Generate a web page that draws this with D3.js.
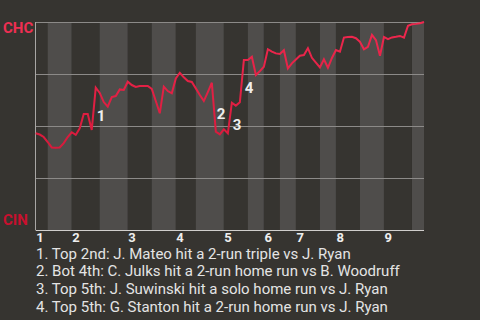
<!DOCTYPE html>
<html>
<head>
<meta charset="utf-8">
<script src="https://cdn.jsdelivr.net/npm/d3@7"></script>
<style>
  html, body { margin: 0; padding: 0; background: #363430; }
  svg { display: block; font-family: Roboto, "Noto Sans", sans-serif; }
</style>
</head>
<body>
<svg width="480" height="320"></svg>
<script>
// CHC win probability after each play (0 = CIN wins, 1 = CHC wins)
const winProb = [
  0.465, 0.459, 0.447, 0.423, 0.397, 0.396, 0.397, 0.418, 0.447, 0.470,
  0.457, 0.489, 0.558, 0.558, 0.481, 0.684, 0.659, 0.615, 0.593, 0.639,
  0.644, 0.676, 0.673, 0.713, 0.697, 0.688, 0.692, 0.692, 0.692, 0.678,
  0.620, 0.561, 0.689, 0.668, 0.657, 0.729, 0.756, 0.734, 0.716, 0.712,
  0.681, 0.649, 0.620, 0.663, 0.708, 0.473, 0.460, 0.484, 0.465, 0.612,
  0.598, 0.614, 0.817, 0.817, 0.833, 0.745, 0.764, 0.785, 0.869, 0.858,
  0.849, 0.846, 0.864, 0.777, 0.801, 0.820, 0.838, 0.841, 0.874, 0.828,
  0.805, 0.782, 0.821, 0.780, 0.827, 0.865, 0.857, 0.925, 0.928, 0.929,
  0.922, 0.905, 0.869, 0.881, 0.938, 0.913, 0.838, 0.928, 0.918, 0.926,
  0.929, 0.933, 0.925, 0.982, 0.989, 0.991, 0.994, 1.000
];

// play index where each half inning starts (top 1st, bot 1st, ...)
const halfStarts = [0, 3, 9, 16, 23, 29, 35, 40, 47, 53, 57, 61, 65, 71, 75, 81, 87, 94];
const lastPlay = 97;
const innings = ["1", "2", "3", "4", "5", "6", "7", "8", "9"];

// big plays: index of the play after the swing
const eventPlays = [15, 45, 49, 52];
const eventTexts = [
  "1. Top 2nd: J. Mateo hit a 2-run triple vs J. Ryan",
  "2. Bot 4th: C. Julks hit a 2-run home run vs B. Woodruff",
  "3. Top 5th: J. Suwinski hit a solo home run vs J. Ryan",
  "4. Top 5th: G. Stanton hit a 2-run home run vs J. Ryan"
];

const teams = ["CHC", "CIN"];
const gridVals = [0.25, 0.5, 0.75, 1];

const svg = d3.select("svg");

const x = d3.scaleLinear().domain([0, lastPlay]).range([35.7, 424]);
const y = d3.scaleLinear().domain([0, 1]).range([230, 22]);

// half-inning bands, bottom halves lighter
const bands = halfStarts.map((s, i) => ({
  start: s,
  end: i + 1 < halfStarts.length ? halfStarts[i + 1] : lastPlay,
  bottom: i % 2 == 1
}));

svg.append("g")
  .selectAll("rect")
  .data(bands)
  .enter().append("rect")
    .attr("x", d => x(d.start))
    .attr("y", y(1))
    .attr("width", d => x(d.end) - x(d.start))
    .attr("height", y(0) - y(1))
    .attr("fill", d => d.bottom ? "#4f4d4b" : "#363430");

// grid lines
svg.append("g")
  .selectAll("line")
  .data(gridVals)
  .enter().append("line")
    .attr("x1", x(0))
    .attr("x2", x(lastPlay))
    .attr("y1", d => Math.round(y(d)) + 0.5)
    .attr("y2", d => Math.round(y(d)) + 0.5)
    .style("stroke", "#8c8a88")
    .style("stroke-width", 1);

// axes lines
svg.append("line")
  .attr("x1", 35.5).attr("x2", 35.5)
  .attr("y1", y(1)).attr("y2", y(0))
  .style("stroke", "#a8a6a4");
svg.append("line")
  .attr("x1", x(0)).attr("x2", x(lastPlay))
  .attr("y1", y(0) + 0.5).attr("y2", y(0) + 0.5)
  .style("stroke", "#d0cecc");

// gradient for the line: CHC colour on top, CIN colour at the bottom
const grad = svg.append("defs").append("linearGradient")
  .attr("id", "wpGrad")
  .attr("gradientUnits", "userSpaceOnUse")
  .attr("x1", 0).attr("x2", 0)
  .attr("y1", y(1)).attr("y2", y(0));
grad.append("stop").attr("offset", "0%").attr("stop-color", "#f0284f");
grad.append("stop").attr("offset", "100%").attr("stop-color", "#c8102e");

const line = d3.line()
  .x((d, i) => x(i))
  .y(d => y(d));

svg.append("path")
  .datum(winProb)
  .attr("d", line)
  .style("fill", "none")
  .style("stroke", "url(#wpGrad)")
  .style("stroke-width", 2)
  .style("stroke-linejoin", "miter");

// event numbers next to the swings
svg.append("g")
  .selectAll("text")
  .data(eventPlays)
  .enter().append("text")
    .attr("x", d => x(d) + 1)
    .attr("y", d => (y(winProb[d - 1]) + y(winProb[d])) / 2 + 12)
    .attr("fill", "#eeeeee")
    .style("font-size", "15px")
    .style("font-weight", "bold")
    .text((d, i) => i + 1);

// team labels
svg.append("text")
  .attr("x", 3).attr("y", 33)
  .attr("fill", "#ee2f52")
  .style("font-size", "15px").style("font-weight", "bold")
  .text(teams[0]);
svg.append("text")
  .attr("x", 3).attr("y", 225)
  .attr("fill", "#c8102e")
  .style("font-size", "15px").style("font-weight", "bold")
  .text(teams[1]);

// inning numbers at start of each top half
svg.append("g")
  .selectAll("text")
  .data(innings)
  .enter().append("text")
    .attr("x", (d, i) => x(halfStarts[i * 2]) + 0.5)
    .attr("y", 242)
    .attr("fill", "#eeeeee")
    .style("font-size", "13px")
    .style("font-weight", "bold")
    .text(d => d);

// event descriptions
svg.append("g")
  .selectAll("text")
  .data(eventTexts)
  .enter().append("text")
    .attr("x", 36)
    .attr("y", (d, i) => 258.5 + i * 17.8)
    .attr("fill", "#e4e4e4")
    .style("font-size", "15px")
    .text(d => d);
</script>
</body>
</html>
